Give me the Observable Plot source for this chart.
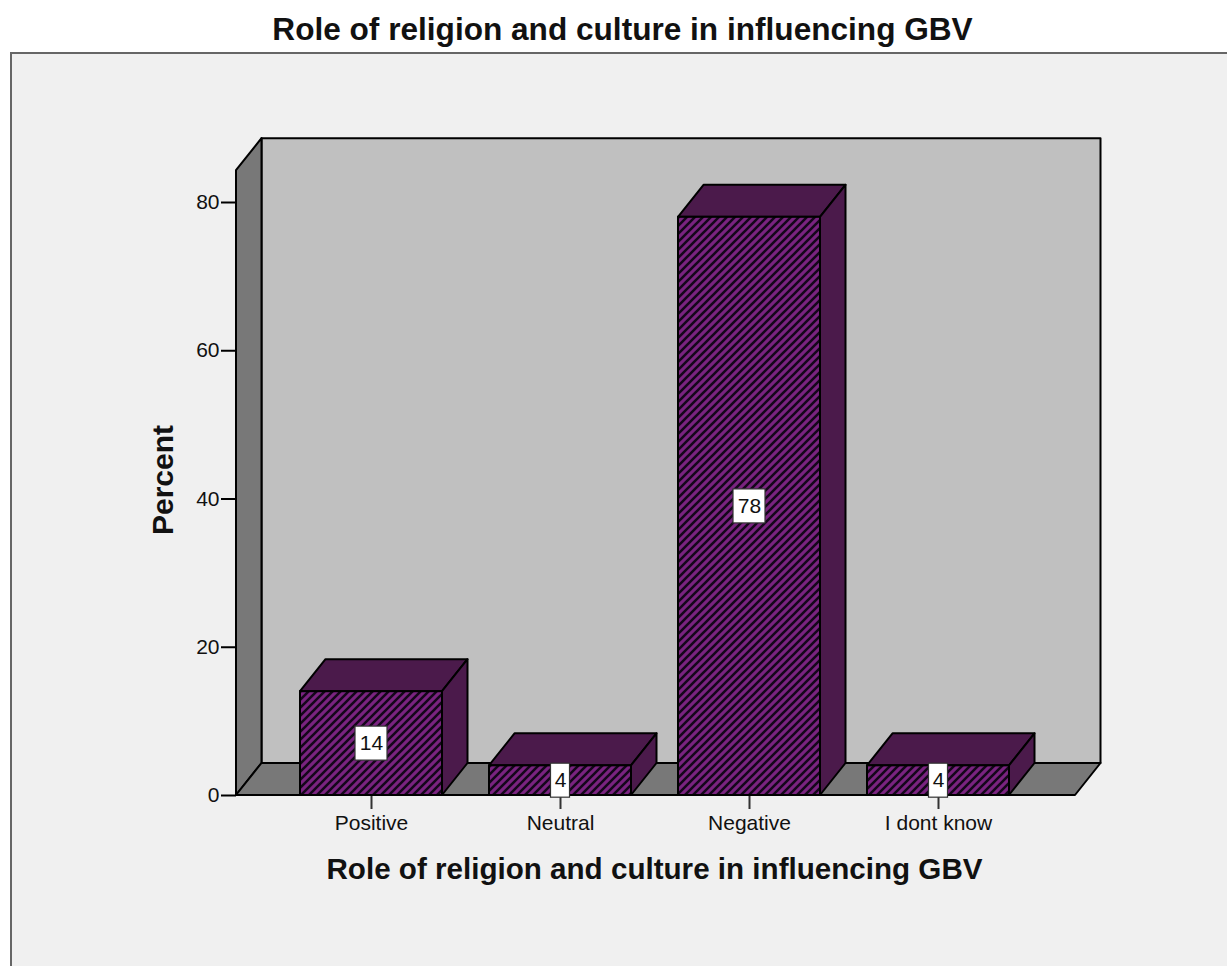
<!DOCTYPE html>
<html>
<head>
<meta charset="utf-8">
<title>Role of religion and culture in influencing GBV</title>
<script src="https://cdn.jsdelivr.net/npm/d3@7"></script>
<script src="https://cdn.jsdelivr.net/npm/@observablehq/plot@0.6"></script>
<style>
  html, body { margin: 0; background: #fff; }
  svg { display: block; }
</style>
</head>
<body>
<div id="chart"></div>
<script>
const categories = ["Positive", "Neutral", "Negative", "I dont know"];
const percents = [14, 4, 78, 4];
const yTicks = [0, 20, 40, 60, 80];
const chartTitle = "Role of religion and culture in influencing GBV";
const yLabel = "Percent";

const rows = categories.map((category, i) => ({category, percent: percents[i]}));

const font = "Liberation Sans, Arial, sans-serif";
const ink = "#111";
const lineWidth = 2;
const depthX = 25.5;
const depthY = -32;
const frontLeft = 236;
const frontRight = 1075;
const wallTopValue = 84.3;

function svgNode(tag, attrs, text) {
  const node = document.createElementNS("http://www.w3.org/2000/svg", tag);
  for (const [k, v] of Object.entries(attrs)) node.setAttribute(k, v);
  if (text != null) node.textContent = text;
  return node;
}

function polygon(points, fill) {
  return svgNode("polygon", {
    points: points.map((p) => p.join(",")).join(" "),
    fill,
    stroke: "#000",
    "stroke-width": lineWidth,
    "stroke-linejoin": "round"
  });
}

// Back wall, left wall and floor of the 3-D box.
function chamber(index, {y}) {
  const g = svgNode("g", {});
  const y0 = y(0);
  const yTop = y(wallTopValue);
  g.append(
    polygon([[frontLeft + depthX, yTop + depthY], [frontRight + depthX, yTop + depthY],
             [frontRight + depthX, y0 + depthY], [frontLeft + depthX, y0 + depthY]], "#c0c0c0"),
    polygon([[frontLeft, yTop], [frontLeft + depthX, yTop + depthY],
             [frontLeft + depthX, y0 + depthY], [frontLeft, y0]], "#787878"),
    polygon([[frontLeft, y0], [frontLeft + depthX, y0 + depthY],
             [frontRight + depthX, y0 + depthY], [frontRight, y0]], "#787878")
  );
  return g;
}

// Top and side faces of each bar, extruded from the front face.
function barDepth(index, {x, y}) {
  const g = svgNode("g", {});
  const dark = "#4b1a4b";
  for (const d of rows) {
    const l = x(d.category);
    const r = l + x.bandwidth();
    const t = y(d.percent);
    const b = y(0);
    g.append(
      polygon([[l, t], [l + depthX, t + depthY], [r + depthX, t + depthY], [r, t]], dark),
      polygon([[r, t], [r + depthX, t + depthY], [r + depthX, b + depthY], [r, b]], dark)
    );
  }
  return g;
}

// Diagonal hatch used on the front faces.
function hatchDefs() {
  const defs = svgNode("defs", {});
  const pattern = svgNode("pattern", {
    id: "hatch", patternUnits: "userSpaceOnUse", width: 8, height: 8
  });
  pattern.append(
    svgNode("rect", {width: 8, height: 8, fill: "#7a2380"}),
    svgNode("path", {d: "M-2,2L2,-2M0,8L8,0M6,10L10,6", stroke: "#14061a", "stroke-width": 2.6})
  );
  defs.append(pattern);
  return defs;
}

// White plates behind the value labels, centred on the middle of each bar.
function labelPlates(index, {x, y}) {
  const g = svgNode("g", {});
  for (const d of rows) {
    const w = String(d.percent).length > 1 ? 32 : 19;
    const cx = x(d.category) + x.bandwidth() / 2;
    const cy = y(d.percent / 2);
    g.append(svgNode("rect", {
      x: cx - w / 2, y: cy - 17, width: w, height: 34,
      fill: "#fff", stroke: "#333", "stroke-width": 1.2
    }));
  }
  return g;
}

const plot = Plot.plot({
  width: 1227,
  height: 966,
  marginLeft: frontLeft,
  marginRight: 1227 - frontRight,
  marginTop: 138,
  marginBottom: 171,
  style: {fontFamily: font, background: "#fff", overflow: "hidden"},
  x: {
    type: "band",
    domain: categories,
    range: [276.5, 1032.5],
    paddingInner: 0.25,
    paddingOuter: 0.125
  },
  y: {domain: [0, 80], range: [795, 202]},
  marks: [
    hatchDefs,
    Plot.frame({
      fill: "#f0f0f0", stroke: "#666", strokeWidth: 2,
      insetLeft: -225.5, insetTop: -85.5, insetRight: -170, insetBottom: -190
    }),
    chamber,
    Plot.axisY({
      ticks: yTicks, tickFormat: (d) => d, label: null,
      tickSize: 15, tickPadding: 2, fontSize: 21, stroke: "#000", strokeWidth: lineWidth, fill: ink
    }),
    Plot.axisX({
      label: null, tickSize: 14, tickPadding: 6, fontSize: 21, stroke: "#333", strokeWidth: lineWidth, fill: ink
    }),
    barDepth,
    Plot.barY(rows, {
      x: "category", y: "percent",
      fill: "url(#hatch)", stroke: "#000", strokeWidth: lineWidth
    }),
    labelPlates,
    Plot.text(rows, {
      x: "category", y: (d) => d.percent / 2, text: (d) => String(d.percent),
      fontSize: 21, fill: ink
    }),
    Plot.text([chartTitle], {
      frameAnchor: "top", dx: -33.5, dy: -121, fontSize: 31.6, fontWeight: "bold", fill: ink
    }),
    Plot.text([chartTitle], {
      frameAnchor: "bottom", dx: -1.5, dy: 83, fontSize: 29.6, fontWeight: "bold", fill: ink
    }),
    Plot.text([yLabel], {
      frameAnchor: "left", dx: -73, dy: 68, rotate: -90, fontSize: 30, fontWeight: "bold", fill: ink
    })
  ]
});

document.getElementById("chart").append(plot);
</script>
</body>
</html>
